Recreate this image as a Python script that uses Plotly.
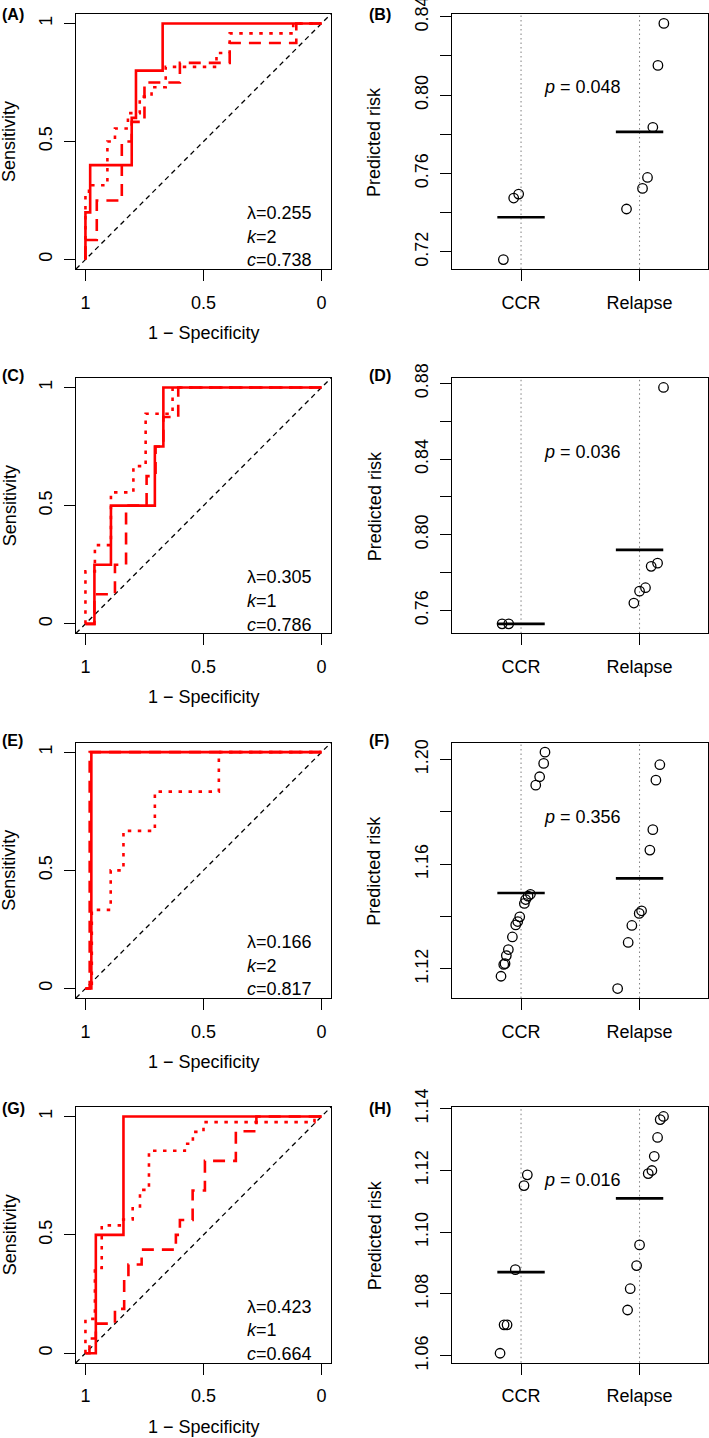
import numpy as np
import plotly.graph_objects as go

W, H = 709, 1438
FONT = "Liberation Sans, Arial, Helvetica, sans-serif"
RED = "#FF0000"

# ---------------- ROC curves (specificity, sensitivity) ----------------
A_solid_spec = [1, 1, 0.98, 0.98, 0.804, 0.804, 0.786, 0.786, 0.673, 0.673, 0]
A_solid_sens = [0, 0.2, 0.2, 0.4, 0.4, 0.6, 0.6, 0.8, 0.8, 1, 1]
A_dash_spec = [1, 1, 0.952, 0.952, 0.846, 0.846, 0.804, 0.804, 0.75, 0.75, 0.6, 0.6, 0.389, 0.389, 0.107, 0.107, 0]
A_dash_sens = [0, 0.083, 0.083, 0.25, 0.25, 0.5, 0.5, 0.583, 0.583, 0.75, 0.75, 0.833, 0.833, 0.917, 0.917, 1, 1]
A_dot_spec = [1, 1, 0.985, 0.985, 0.907, 0.907, 0.875, 0.875, 0.82, 0.82, 0.77, 0.77, 0.72, 0.72, 0.66, 0.66,
              0.445, 0.445, 0.389, 0.389, 0.12, 0.12, 0]
A_dot_sens = [0, 0.27, 0.27, 0.315, 0.315, 0.5, 0.5, 0.555, 0.555, 0.62, 0.62, 0.69, 0.69, 0.73, 0.73, 0.816,
              0.816, 0.875, 0.875, 0.958, 0.958, 1, 1]

C_solid_spec = [1, 0.962, 0.962, 0.892, 0.892, 0.706, 0.706, 0.67, 0.67, 0]
C_solid_sens = [0, 0, 0.25, 0.25, 0.5, 0.5, 0.75, 0.75, 1, 1]
C_dash_spec = [1, 0.962, 0.962, 0.875, 0.875, 0.828, 0.828, 0.741, 0.741, 0.703, 0.703, 0.67, 0.67, 0.607, 0.607, 0]
C_dash_sens = [0, 0, 0.125, 0.125, 0.25, 0.25, 0.5, 0.5, 0.625, 0.625, 0.75, 0.75, 0.875, 0.875, 1, 1]
C_dot_spec = [1, 1, 0.96, 0.96, 0.892, 0.892, 0.797, 0.797, 0.745, 0.745, 0.631, 0.631, 0]
C_dot_sens = [0, 0.222, 0.222, 0.333, 0.333, 0.556, 0.556, 0.667, 0.667, 0.889, 0.889, 1, 1]

E_solid_spec = [1, 0.975, 0.975, 0]
E_solid_sens = [0, 0, 1, 1]
E_dash_spec = [1, 0.982, 0.982, 0]
E_dash_sens = [0, 0, 1, 1]
E_dot_spec = [1, 0.973, 0.973, 0.893, 0.893, 0.839, 0.839, 0.706, 0.706, 0.435, 0.435, 0]
E_dot_sens = [0, 0, 0.333, 0.333, 0.5, 0.5, 0.667, 0.667, 0.833, 0.833, 1, 1]

G_solid_spec = [1, 0.956, 0.956, 0.839, 0.839, 0]
G_solid_sens = [0, 0, 0.5, 0.5, 1, 1]
G_dash_spec = [1, 0.983, 0.983, 0.956, 0.956, 0.875, 0.875, 0.836, 0.836, 0.818, 0.818, 0.762, 0.762, 0.617, 0.617,
               0.6, 0.6, 0.546, 0.546, 0.494, 0.494, 0.363, 0.363, 0.276, 0.276, 0]
G_dash_sens = [0, 0, 0.0625, 0.0625, 0.125, 0.125, 0.1875, 0.1875, 0.3125, 0.3125, 0.375, 0.375, 0.4375, 0.4375,
               0.5, 0.5, 0.5625, 0.5625, 0.6875, 0.6875, 0.8125, 0.8125, 0.9375, 0.9375, 1, 1]
G_dot_spec = [1, 1, 0.96, 0.96, 0.931, 0.931, 0.84, 0.84, 0.8, 0.8, 0.769, 0.769, 0.731, 0.731, 0.579, 0.579,
              0.545, 0.545, 0.5, 0.5, 0.03, 0.03, 0]
G_dot_sens = [0, 0.145, 0.145, 0.36, 0.36, 0.54, 0.54, 0.565, 0.565, 0.62, 0.62, 0.69, 0.69, 0.855, 0.855,
              0.885, 0.885, 0.935, 0.935, 0.976, 0.976, 1, 1]

roc_labels = ["(A)", "(C)", "(E)", "(G)"]
roc_lambda = ["0.255", "0.305", "0.166", "0.423"]
roc_k = ["2", "1", "2", "1"]
roc_c = ["0.738", "0.786", "0.817", "0.664"]
roc_curves = [
    [(A_solid_spec, A_solid_sens), (A_dash_spec, A_dash_sens), (A_dot_spec, A_dot_sens)],
    [(C_solid_spec, C_solid_sens), (C_dash_spec, C_dash_sens), (C_dot_spec, C_dot_sens)],
    [(E_solid_spec, E_solid_sens), (E_dash_spec, E_dash_sens), (E_dot_spec, E_dot_sens)],
    [(G_solid_spec, G_solid_sens), (G_dash_spec, G_dash_sens), (G_dot_spec, G_dot_sens)],
]
roc_xticks = [1, 0.5, 0]
roc_xticktext = ["1", "0.5", "0"]
roc_yticks = [0, 0.5, 1]
roc_yticktext = ["0", "0.5", "1"]

# ---------------- Predicted risk strip charts ----------------
groups = ["CCR", "Relapse"]

B_ccr = [0.7161, 0.7475, 0.7495]
B_ccr_jit = [-0.149, -0.062, -0.020]
B_rel = [0.8366, 0.8152, 0.7836, 0.7580, 0.7524, 0.7419]
B_rel_jit = [0.205, 0.155, 0.112, 0.067, 0.025, -0.110]

D_ccr = [0.7529, 0.7529]
D_ccr_jit = [-0.160, -0.104]
D_rel = [0.8779, 0.7850, 0.7833, 0.7720, 0.7702, 0.7639]
D_rel_jit = [0.202, 0.152, 0.098, 0.050, 0.000, -0.048]

F_ccr = [1.2028, 1.1985, 1.1934, 1.1902, 1.1485, 1.1478, 1.1465, 1.1450, 1.1399, 1.1381, 1.1368,
         1.1322, 1.1274, 1.1251, 1.1220, 1.1217, 1.1172]
F_ccr_jit = [0.202, 0.191, 0.157, 0.124, 0.079, 0.059, 0.039, 0.028, -0.011, -0.028, -0.045,
             -0.073, -0.107, -0.124, -0.135, -0.146, -0.169]
F_rel = [1.1980, 1.1921, 1.1732, 1.1654, 1.1422, 1.1412, 1.1366, 1.1301, 1.1125]
F_rel_jit = [0.171, 0.138, 0.112, 0.087, 0.017, -0.003, -0.065, -0.096, -0.185]

H_ccr = [1.1186, 1.1151, 1.0879, 1.0700, 1.0700, 1.0608]
H_ccr_jit = [0.053, 0.025, -0.048, -0.118, -0.143, -0.177]
H_rel = [1.1375, 1.1365, 1.1307, 1.1246, 1.1200, 1.1190, 1.0959, 1.0892, 1.0817, 1.0748]
H_rel_jit = [0.202, 0.174, 0.152, 0.124, 0.104, 0.073, 0.000, -0.025, -0.079, -0.101]

risk_labels = ["(B)", "(D)", "(F)", "(H)"]
risk_p = ["0.048", "0.036", "0.356", "0.016"]
risk_p_y = [0.804, 0.8438, 1.1781, 1.1168]
risk_data = [(B_ccr, B_ccr_jit, B_rel, B_rel_jit), (D_ccr, D_ccr_jit, D_rel, D_rel_jit),
             (F_ccr, F_ccr_jit, F_rel, F_rel_jit), (H_ccr, H_ccr_jit, H_rel, H_rel_jit)]
risk_yticks = [
    [0.72, 0.74, 0.76, 0.78, 0.80, 0.82, 0.84],
    [0.76, 0.78, 0.80, 0.82, 0.84, 0.86, 0.88],
    [1.12, 1.14, 1.16, 1.18, 1.20],
    [1.06, 1.08, 1.10, 1.12, 1.14],
]
risk_yticktext = [
    ["0.72", "", "0.76", "", "0.80", "", "0.84"],
    ["0.76", "", "0.80", "", "0.84", "", "0.88"],
    ["1.12", "", "1.16", "", "1.20"],
    ["1.06", "1.08", "1.10", "1.12", "1.14"],
]

# ---------------- layout geometry (pixels) ----------------
rows_px = [(14, 269), (378, 633.3), (742.7, 998), (1107, 1362.7)]
left_px = (76, 331)
right_px = (452.3, 708.3)
label_y_px = [14, 375, 740, 1108]


def px_x(p):
    return p / W


def px_y(p):
    return 1 - p / H


def ax_names(i):
    s = "" if i == 1 else str(i)
    return "x" + s, "y" + s, "xaxis" + s, "yaxis" + s


fig = go.Figure()
layout = dict(width=W, height=H, margin=dict(l=0, r=0, t=0, b=0), showlegend=False,
              plot_bgcolor="white", paper_bgcolor="white",
              font=dict(family=FONT, size=18, color="black"))
annotations = []
shapes = []

axis_common = dict(showline=True, mirror=True, linecolor="black", linewidth=1.3, ticks="outside",
                   ticklen=11, tickwidth=1.3, tickcolor="black", showgrid=False, zeroline=False,
                   tickfont=dict(family=FONT, size=18, color="black"), automargin=False,
                   ticklabeloverflow="allow")

dash_styles = ["solid", "12px,8px", "3.5px,6.5px"]
XSTAND, YSTAND = 6, 5

for r in range(4):
    top, bot = rows_px[r]
    ydom = [px_y(bot), px_y(top)]
    # ---------- ROC panel ----------
    xa, ya, xk, yk = ax_names(2 * r + 1)
    layout[xk] = dict(axis_common, domain=[px_x(left_px[0]), px_x(left_px[1])], anchor=ya,
                      range=[1.04, -0.04], tickvals=roc_xticks, ticktext=roc_xticktext,
                      ticklabelstandoff=XSTAND)
    layout[yk] = dict(axis_common, domain=ydom, anchor=xa, range=[-0.04, 1.04],
                      tickvals=roc_yticks, ticktext=roc_yticktext, tickangle=-90,
                      ticklabelstandoff=YSTAND)
    shapes.append(dict(type="line", xref=f"{xa} domain", yref=f"{ya} domain", x0=0, y0=0, x1=1, y1=1,
                       line=dict(color="black", width=1.3, dash="5px,4px"), layer="below"))
    for (spec, sens), ds in zip(roc_curves[r], dash_styles):
        fig.add_trace(go.Scatter(x=spec, y=sens, xaxis=xa, yaxis=ya, mode="lines",
                                 line=dict(color=RED, width=2.6, dash=ds), hoverinfo="skip"))
    for txt, yy in [("λ=" + roc_lambda[r], 0.197), ("<i>k</i>=" + roc_k[r], 0.097),
                    ("<i>c</i>=" + roc_c[r], -0.003)]:
        annotations.append(dict(text=txt, xref=xa, yref=ya, x=0.325, y=yy, xanchor="left", yanchor="middle",
                                showarrow=False, font=dict(size=18)))
    annotations.append(dict(text="Sensitivity", xref="paper", yref="paper", x=px_x(9.5),
                            y=px_y((top + bot) / 2), textangle=-90, showarrow=False,
                            xanchor="center", yanchor="middle", font=dict(size=18)))
    annotations.append(dict(text="1 \u2212 Specificity", xref="paper", yref="paper",
                            x=px_x((left_px[0] + left_px[1]) / 2), y=px_y(bot + 64), showarrow=False,
                            xanchor="center", yanchor="middle", font=dict(size=18)))
    annotations.append(dict(text="<b>" + roc_labels[r] + "</b>", xref="paper", yref="paper", x=0,
                            y=px_y(label_y_px[r]), xanchor="left", yanchor="middle", showarrow=False,
                            font=dict(size=16)))

    # ---------- predicted-risk panel ----------
    xb, yb, xk, yk = ax_names(2 * r + 2)
    ccr, ccr_j, rel, rel_j = risk_data[r]
    allv = np.array(ccr + rel)
    lo, hi = allv.min(), allv.max()
    pad = 0.04 * (hi - lo)
    layout[xk] = dict(axis_common, domain=[px_x(right_px[0]), px_x(right_px[1])], anchor=yb,
                      range=[0.42, 2.58], tickvals=[1, 2], ticktext=groups, ticklabelstandoff=XSTAND)
    layout[yk] = dict(axis_common, domain=ydom, anchor=xb, range=[lo - pad, hi + pad],
                      tickvals=risk_yticks[r], ticktext=risk_yticktext[r], tickangle=-90,
                      ticklabelstandoff=YSTAND)
    for gx in [1, 2]:
        shapes.append(dict(type="line", xref=xb, yref=f"{yb} domain", x0=gx, x1=gx, y0=0, y1=1,
                           line=dict(color="#7f7f7f", width=1, dash="1.5px,3px"), layer="below"))
    for gx, vals, jit in [(1, ccr, ccr_j), (2, rel, rel_j)]:
        fig.add_trace(go.Scatter(x=[gx + j for j in jit], y=vals, xaxis=xb, yaxis=yb, mode="markers",
                                 marker=dict(symbol="circle-open", size=9.5, color="black",
                                             line=dict(width=1.3, color="black")), hoverinfo="skip"))
        m = float(np.mean(vals))
        fig.add_trace(go.Scatter(x=[gx - 0.2, gx + 0.2], y=[m, m], xaxis=xb, yaxis=yb, mode="lines",
                                 line=dict(color="black", width=2.7), hoverinfo="skip"))
    annotations.append(dict(text="<i>p</i> = " + risk_p[r], xref=xb, yref=yb, x=1.52, y=risk_p_y[r],
                            xanchor="center", yanchor="middle", showarrow=False, font=dict(size=18)))
    annotations.append(dict(text="Predicted risk", xref="paper", yref="paper", x=px_x(374.5),
                            y=px_y((top + bot) / 2), textangle=-90, showarrow=False,
                            xanchor="center", yanchor="middle", font=dict(size=18)))
    annotations.append(dict(text="<b>" + risk_labels[r] + "</b>", xref="paper", yref="paper",
                            x=px_x(366.5), y=px_y(label_y_px[r]), xanchor="left", yanchor="middle",
                            showarrow=False, font=dict(size=16)))

layout["annotations"] = annotations
layout["shapes"] = shapes
fig.update_layout(**layout)
fig.write_html("out.html", config={"displayModeBar": False})

# remove the browser's default page margin so the figure sits at the window's top-left corner
with open("out.html", "r", encoding="utf-8") as fh:
    html = fh.read()
html = html.replace("<head>", "<head><style>html,body{margin:0;padding:0;overflow:hidden;}</style>", 1)
with open("out.html", "w", encoding="utf-8") as fh:
    fh.write(html)
